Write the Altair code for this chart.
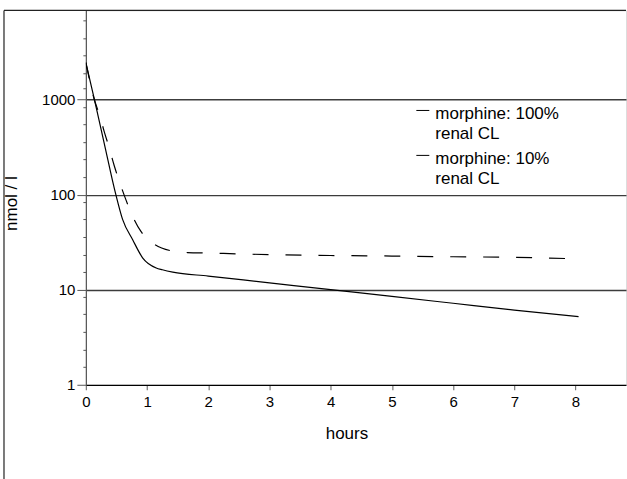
import altair as alt
import pandas as pd

# --- data ---
hours_100 = [0, 0.14, 0.3, 0.49, 0.6, 0.765, 0.93, 1.15, 1.25, 1.42, 2, 3, 4, 5, 6, 7, 8.05]
nmol_100 = [2450, 1000, 347, 100, 55, 33.5, 21.5, 16.9, 16.2, 15.3, 13.9, 11.8, 10.0, 8.5, 7.2, 6.1, 5.2]

hours_10 = [0, 0.14, 0.22, 0.30, 0.385, 0.465, 0.55, 0.655, 0.755, 0.9, 1.09, 1.375, 1.66,
            2.0, 2.5, 3.0, 4.0, 5.0, 6.0, 7.0, 8.05]
nmol_10 = [2450, 990, 700, 460, 305, 200, 136, 88, 61, 41, 31, 25.8, 24.6,
           24.3, 23.8, 23.4, 22.9, 22.6, 22.2, 21.9, 21.1]

series_names = ["morphine: 100%|renal CL", "morphine: 10%|renal CL"]
x_ticks = [0, 1, 2, 3, 4, 5, 6, 7, 8]
y_major = [1, 10, 100, 1000]
y_minor = [1.53, 2.34, 3.59, 5.5, 8.4,
           15.3, 23.4, 35.9, 55, 84,
           153, 234, 359, 550, 840,
           1300, 1900, 2900, 4400, 6800]

df = pd.concat([
    pd.DataFrame({"hours": hours_100, "nmol": nmol_100, "series": series_names[0]}),
    pd.DataFrame({"hours": hours_10, "nmol": nmol_10, "series": series_names[1]}),
])

FONT = "Liberation Sans"
W, H = 541, 375

major_test = "indexof([1,10,100,1000], datum.value) >= 0"

x_enc = alt.X(
    "hours:Q",
    scale=alt.Scale(domain=[0, 8.825], nice=False, zero=False),
    axis=alt.Axis(
        values=x_ticks, title="hours", grid=False, labelFlush=False,
        domainColor="#000000", domainWidth=1.2,
        tickColor="#777777", tickSize=5, tickWidth=1.2,
        labelFont=FONT, labelFontSize=15, labelColor="#000000", labelPadding=5,
        titleFont=FONT, titleFontSize=17, titleFontWeight="normal", titleColor="#000000",
        titleX=261, titleY=54, titleBaseline="alphabetic", titleAlign="center",
    ),
)

y_enc = alt.Y(
    "nmol:Q",
    scale=alt.Scale(type="log", domain=[1, 8670], nice=False),
    axis=alt.Axis(
        values=y_major + y_minor,
        labelExpr=f"{major_test} ? format(datum.value, 'd') : ''",
        grid=True,
        gridColor="#3c3c3c", gridWidth=1.4,
        gridOpacity={"condition": {"test": "indexof([10,100,1000], datum.value) >= 0", "value": 1}, "value": 0},
        tickSize={"condition": {"test": major_test, "value": 9}, "value": 3},
        tickColor="#555555", tickWidth=1,
        domainColor="#555555", domainWidth=1.2,
        labelFont=FONT, labelFontSize=15, labelColor="#000000", labelPadding=2,
        title="nmol / l", titleFont=FONT, titleFontSize=17, titleFontWeight="normal",
        titleColor="#000000", titleAngle=270, titleX=-74, titleY=193,
        titleAlign="center", titleBaseline="middle",
    ),
)

color_enc = alt.Color(
    "series:N",
    scale=alt.Scale(domain=series_names, range=["#000000", "#000000"]),
    legend=alt.Legend(
        title=None, orient="none", legendX=329, legendY=95, padding=0,
        symbolType="M-1,-0.5L1,-0.5", symbolSize=169, symbolStrokeWidth=1,
        symbolStrokeColor="#000000",
        labelFont=FONT, labelFontSize=17, labelColor="#000000", labelLimit=400,
        labelExpr="split(datum.label, '|')", labelBaseline="middle", labelOffset=4,
        rowPadding=6,
    ),
)

base = alt.Chart(df)
solid = base.transform_filter(alt.datum.series == series_names[0]).mark_line(
    interpolate="monotone", strokeWidth=1.2, clip=True
).encode(x=x_enc, y=y_enc, color=color_enc)
dashed = base.transform_filter(alt.datum.series == series_names[1]).mark_line(
    interpolate="monotone", strokeWidth=1.2, strokeDash=[16, 17], clip=True
).encode(x=x_enc, y=y_enc, color=color_enc)

frame_df = pd.DataFrame({"k": [0]})
frame_top = alt.Chart(frame_df).mark_rule(color="#222222", strokeWidth=1.2).encode(
    x=alt.value(-82), x2=alt.value(W), y=alt.value(0)
)
frame_left = alt.Chart(frame_df).mark_rule(color="#222222", strokeWidth=1.2).encode(
    x=alt.value(-82), y=alt.value(0), y2=alt.value(480)
)

chart = alt.layer(frame_top, frame_left, solid, dashed).properties(
    width=W, height=H,
    padding={"left": 3, "top": 9, "right": 0, "bottom": 0},
    background="#ffffff",
).configure_view(stroke=None).configure(
    style={"guide-label": {"lineHeight": 20.7}}
)

chart.save("out.html", embed_options={"renderer": "svg", "actions": False})
